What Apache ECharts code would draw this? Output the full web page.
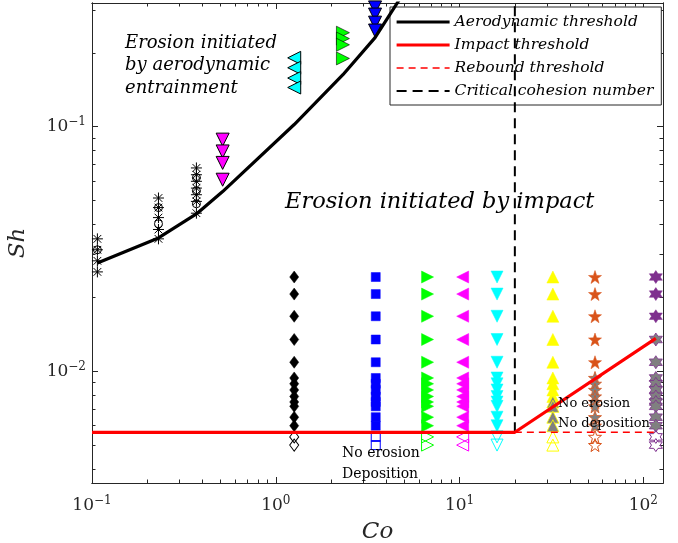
<!DOCTYPE html>
<html>
<head>
<meta charset="utf-8">
<script src="https://cdn.jsdelivr.net/npm/echarts@6/dist/echarts.min.js"></script>
<style>html,body{margin:0;padding:0;background:#fff}#chart{width:678px;height:543px}</style>
</head>
<body>
<div id="chart"></div>
<script>
// axis ranges and ticks
const coMin = 0.1, coMax = 128;
const shMin = 0.0035, shMax = 0.32;
const coMajor = [0.1, 1, 10, 100];
const coMinor = [0.2, 0.3, 0.4, 0.5, 0.6, 0.7, 0.8, 0.9, 2, 3, 4, 5, 6, 7, 8, 9, 20, 30, 40, 50, 60, 70, 80, 90];
const shMajor = [0.01, 0.1];
const shMinor = [0.004, 0.005, 0.006, 0.007, 0.008, 0.009, 0.02, 0.03, 0.04, 0.05, 0.06, 0.07, 0.08, 0.09, 0.2, 0.3];

// threshold curves
const aeroCo = [0.107, 0.23, 0.37, 0.514, 1.26, 2.32, 3.47, 6.7];
const aeroSh = [0.0277, 0.0351, 0.0440, 0.0543, 0.102, 0.163, 0.231, 0.5];
const impactCo = [0.1, 20, 117];
const impactSh = [0.00564, 0.00564, 0.01364];
const reboundCo = [20, 117];
const reboundSh = [0.00564, 0.00564];
const criticalCo = [20, 20];
const criticalSh = [0.00564, 0.32];

// aerodynamic entrainment runs
const astCo = [0.107, 0.23, 0.37];
const astSh = [
  [0.0348, 0.0314, 0.0283, 0.0255],
  [0.0511, 0.0467, 0.0425, 0.0380, 0.0348],
  [0.0678, 0.0636, 0.0598, 0.0561, 0.0527, 0.0495, 0.0443]
];
const ringSh = [[0.0314], [0.0467, 0.0401], [0.0619, 0.0547, 0.0484]];
const magDownCo = 0.514, magDownSh = [0.0885, 0.0792, 0.0711, 0.0607];
const cyanLeftCo = 1.26, cyanLeftSh = [0.191, 0.174, 0.158, 0.1445];
const greenRightCo = 2.32, greenRightSh = [0.242, 0.229, 0.216, 0.190];
const blueDownCo = 3.47, blueDownSh = [0.307, 0.287, 0.266, 0.247];

// impact runs: Co columns, Sh levels
const colCo = [1.26, 3.5, 6.7, 10.4, 16, 32.2, 54.6, 117];
const erodeSh = [0.0243, 0.0207, 0.0168, 0.0135, 0.0109, 0.0094, 0.0089, 0.0084, 0.0079, 0.0075, 0.0072, 0.0065, 0.0060];
const openSh = [0.0054, 0.0050];
const erodeCount = [13, 13, 13, 13, 13, 9, 5, 3];

const FONT = 'DejaVu Serif';
const AX = '#262626';

function starPath(n, inner) {
  let d = '';
  for (let i = 0; i < 2 * n; i++) {
    const r = i % 2 ? inner : 1;
    const a = Math.PI * i / n - Math.PI / 2;
    d += (i ? 'L' : 'M') + (r * Math.cos(a)).toFixed(3) + ',' + (r * Math.sin(a)).toFixed(3);
  }
  return 'path://' + d + 'Z';
}
const asterisk = 'path://M0,-1L0,1M-1,0L1,0M-0.7,-0.7L0.7,0.7M-0.7,0.7L0.7,-0.7';

const cols = [
  {color: '#000000', symbol: 'diamond', size: [9, 12], rot: 0},
  {color: '#0000ff', symbol: 'rect', size: 9, rot: 0},
  {color: '#00ff00', symbol: 'triangle', size: 12, rot: -90},
  {color: '#ff00ff', symbol: 'triangle', size: 12, rot: 90},
  {color: '#00ffff', symbol: 'triangle', size: 12, rot: 180},
  {color: '#ffff00', symbol: 'triangle', size: 12, rot: 0},
  {color: '#d95319', symbol: starPath(5, 0.4), size: 13, rot: 0},
  {color: '#7e2f8e', symbol: starPath(6, 0.58), size: 13, rot: 0}
];

function pts(co, arr) { return arr.map(s => [co, s]); }

function scatter(data, symbol, size, rot, fill, edge, bw, z) {
  return {
    type: 'scatter', data: data, symbol: symbol, symbolSize: size, symbolRotate: rot,
    itemStyle: {color: fill, borderColor: edge, borderWidth: bw, opacity: 1},
    z: z || 2, silent: true
  };
}

const series = [];
// aerodynamic markers
astCo.forEach((c, i) => {
  series.push(scatter(pts(c, astSh[i]), asterisk, 11, 0, 'none', '#000', 1));
  series.push(scatter(pts(c, ringSh[i]), 'circle', 8, 0, 'none', '#000', 1));
});
series.push(scatter(pts(magDownCo, magDownSh), 'triangle', 13, 180, '#ff00ff', '#000', 1));
series.push(scatter(pts(cyanLeftCo, cyanLeftSh), 'triangle', 13, 90, '#00ffff', '#000', 1));
series.push(scatter(pts(greenRightCo, greenRightSh), 'triangle', 13, -90, '#00ff00', '#000', 0.6));
series.push(scatter(pts(blueDownCo, blueDownSh), 'triangle', 13, 180, '#0000ff', '#000', 1));

// impact markers
colCo.forEach((c, i) => {
  const k = cols[i];
  const n = erodeCount[i];
  series.push(scatter(pts(c, erodeSh.slice(0, n)), k.symbol, k.size, k.rot, k.color, k.color, 0.5));
  if (n < erodeSh.length) {
    series.push(scatter(pts(c, erodeSh.slice(n)), k.symbol, k.size, k.rot, '#808080', k.color, 0.8));
  }
  series.push(scatter(pts(c, openSh), k.symbol, k.size, k.rot, 'none', k.color, 1));
});

function line(name, xs, ys, color, width, type, z) {
  return {
    name: name, type: 'line', data: xs.map((x, i) => [x, ys[i]]),
    symbol: 'none', showSymbol: false, clip: true, silent: true,
    lineStyle: {color: color, width: width, type: type},
    itemStyle: {color: color}, z: z
  };
}
series.push(line('Aerodynamic threshold', aeroCo, aeroSh, '#000', 3.2, 'solid', 5));
series.push(line('Impact threshold', impactCo, impactSh, '#ff0000', 3.2, 'solid', 5));
series.push(line('Rebound threshold', reboundCo, reboundSh, '#ff0000', 1.5, [7, 5], 4));
series.push(line('Critical cohesion number', criticalCo, criticalSh, '#000', 2, [10, 6], 4));

const sup = {
  b: {fontFamily: FONT, fontSize: 17, color: AX},
  s: {fontFamily: FONT, fontSize: 12, color: AX, padding: [0, 0, 9, 0]}
};
function powLabel(v) {
  const e = Math.round(Math.log10(v));
  return '{b|10}{s|' + (e < 0 ? '\u2212' + (-e) : e) + '}';
}

function axis(dim, pos, ticks, len, labels, name) {
  const isX = dim === 'x';
  const a = {
    type: 'log', logBase: 10, position: pos, gridIndex: 0,
    min: isX ? coMin : shMin, max: isX ? coMax : shMax,
    axisLine: {show: true, lineStyle: {color: AX, width: 1}},
    axisTick: {show: true, inside: true, length: len, customValues: ticks, lineStyle: {color: AX, width: 1}},
    axisLabel: labels ? {show: true, customValues: ticks, formatter: powLabel, rich: sup, margin: isX ? 12 : 6} : {show: false},
    splitLine: {show: false}, minorTick: {show: false}
  };
  if (name) {
    a.name = name; a.nameLocation = 'middle'; a.nameGap = isX ? 38 : 62;
    a.nameTextStyle = {fontFamily: FONT, fontStyle: 'italic', fontSize: 23, color: AX};
  }
  return a;
}

const chart = echarts.init(document.getElementById('chart'), null, {renderer: 'canvas'});
chart.setOption({
  animation: false,
  backgroundColor: '#fff',
  grid: {left: 92, right: 15, top: 3, bottom: 60, outerBoundsMode: 'none'},
  xAxis: [
    axis('x', 'bottom', coMajor, 6, true, 'Co'),
    axis('x', 'bottom', coMinor, 3.5, false),
    axis('x', 'top', coMajor, 6, false),
    axis('x', 'top', coMinor, 3.5, false)
  ],
  yAxis: [
    axis('y', 'left', shMajor, 6, true, 'Sh'),
    axis('y', 'left', shMinor, 3.5, false),
    axis('y', 'right', shMajor, 6, false),
    axis('y', 'right', shMinor, 3.5, false)
  ],
  legend: {
    data: [
      {name: 'Aerodynamic threshold', lineStyle: {width: 3.2}},
      {name: 'Impact threshold', lineStyle: {width: 3.2}},
      {name: 'Rebound threshold', lineStyle: {width: 1.5}},
      {name: 'Critical cohesion number', lineStyle: {width: 2}}
    ],
    orient: 'vertical', left: 390, top: 7,
    itemWidth: 53, itemHeight: 14, itemGap: 7,
    padding: [7, 8, 6, 5],
    backgroundColor: '#fff', borderColor: AX, borderWidth: 1, borderRadius: 0,
    selectedMode: false,
    itemStyle: {opacity: 0},
    textStyle: {fontFamily: FONT, fontStyle: 'italic', fontSize: 15.5, color: '#000'}
  },
  graphic: [
    {type: 'text', x: 125, y: 65.5, style: {text: 'Erosion initiated\nby aerodynamic\nentrainment', font: 'italic 18px "DejaVu Serif"', lineHeight: 22.5, fill: '#000', verticalAlign: 'middle'}},
    {type: 'text', x: 285, y: 202, style: {text: 'Erosion initiated by impact', font: 'italic 22.5px "DejaVu Serif"', fill: '#000', verticalAlign: 'middle'}},
    {type: 'text', x: 342, y: 463.5, z: 10, style: {text: 'No erosion\nDeposition', font: '14px "DejaVu Serif"', lineHeight: 21, fill: '#000', verticalAlign: 'middle'}},
    {type: 'text', x: 558, y: 414, z: 10, style: {text: 'No erosion\nNo deposition', font: '13px "DejaVu Serif"', lineHeight: 20, fill: '#000', verticalAlign: 'middle'}}
  ],
  series: series
});
</script>
</body>
</html>
